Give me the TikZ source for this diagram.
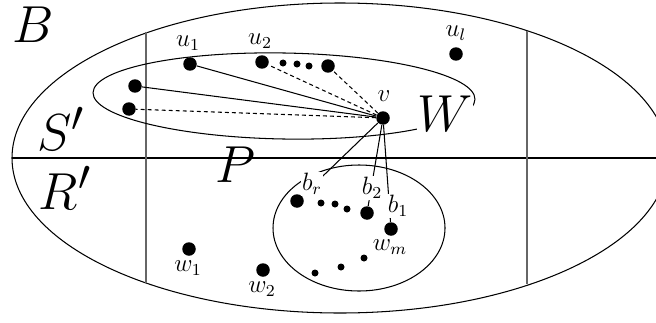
\documentclass[tikz,border=0pt]{standalone}
\begin{document}
\begin{tikzpicture}[x=0.478pt,y=-0.478pt,
  bigdot/.style={circle,fill=black,inner sep=0pt,minimum size=6.45pt},
  smalldot/.style={circle,fill=black,inner sep=0pt,minimum size=3.35pt},
  lab/.style={inner sep=0.5pt,font=\large},
  wlab/.style={lab,fill=white},
  biglab/.style={inner sep=0pt,font=\Huge},
  edge/.style={line width=0.5pt},
  dedge/.style={line width=0.5pt,dash pattern=on 1.9pt off 1.45pt},
  divider/.style={line width=0.62pt,black!60},
  outline/.style={line width=0.5pt}]
\useasboundingbox (0,0) rectangle (656,322);
% regions
\draw[outline] (340,158) ellipse [x radius=328, y radius=155];
\draw[outline] (12,158) -- (668,158);
\draw[divider] (146,32) -- (146,283);
\draw[divider] (527,31) -- (527,284);
\draw[outline,rotate around={-1:(284,96)}] (284,96) ellipse [x radius=191, y radius=43];
\draw[outline] (359,228) ellipse [x radius=86, y radius=63];
% dots
\node[bigdot] (v) at (383,118) {};
\node[bigdot] (u1) at (190,64) {};
\node[bigdot] (u2) at (262,62) {};
\node[smalldot] (d1) at (283,63) {};
\node[smalldot] (d2) at (297,64) {};
\node[smalldot] (d3) at (309,66) {};
\node[bigdot] (u3) at (328,66) {};
\node[bigdot] (ul) at (456,54) {};
\node[bigdot] (s1) at (135,86) {};
\node[bigdot] (s2) at (129,109) {};
\node[bigdot] (br) at (297,201) {};
\node[smalldot] (e1) at (321,203) {};
\node[smalldot] (e2) at (335,204) {};
\node[smalldot] (e3) at (347,209) {};
\node[bigdot] (b2) at (367,213) {};
\node[bigdot] (b1) at (391,229) {};
\node[smalldot] (f1) at (364,258) {};
\node[smalldot] (f2) at (341,267) {};
\node[smalldot] (f3) at (315,273) {};
\node[bigdot] (w1) at (189,249) {};
\node[bigdot] (w2) at (263,270) {};
% connectors
\draw[edge] (v) -- (u1);
\draw[edge] (v) -- (s1);
\draw[dedge] (v) -- (s2);
\draw[dedge] (v) -- (u2);
\draw[dedge] (v) -- (u3);
\draw[edge] (v) -- (br);
\draw[edge] (v) -- (b2);
\draw[edge] (v) -- (b1);
% labels
\node[lab] (lu1) at (188,43) {$u_1$};
\node[lab] (lu2) at (260,41) {$u_2$};
\node[lab] (lul) at (456,33) {$u_l$};
\node[lab] (lv) at (384,96) {$v$};
\node[wlab] (lbr) at (312,184) {$b_r$};
\node[wlab] (lb2) at (372,188) {$b_2$};
\node[wlab] (lb1) at (398,206) {$b_1$};
\node[lab] (lwm) at (390,247) {$w_m$};
\node[lab] (lw1) at (188,268) {$w_1$};
\node[lab] (lw2) at (262,289) {$w_2$};
\node[biglab] (lB) at (33,25) {$B$};
\node[biglab] (lS) at (61,129) {$S'$};
\node[biglab] (lR) at (65,188) {$R'$};
\node[biglab] (lP) at (235,165) {$P$};
\node[biglab,fill=white] (lW) at (445,114) {$W$};
\end{tikzpicture}
\end{document}
